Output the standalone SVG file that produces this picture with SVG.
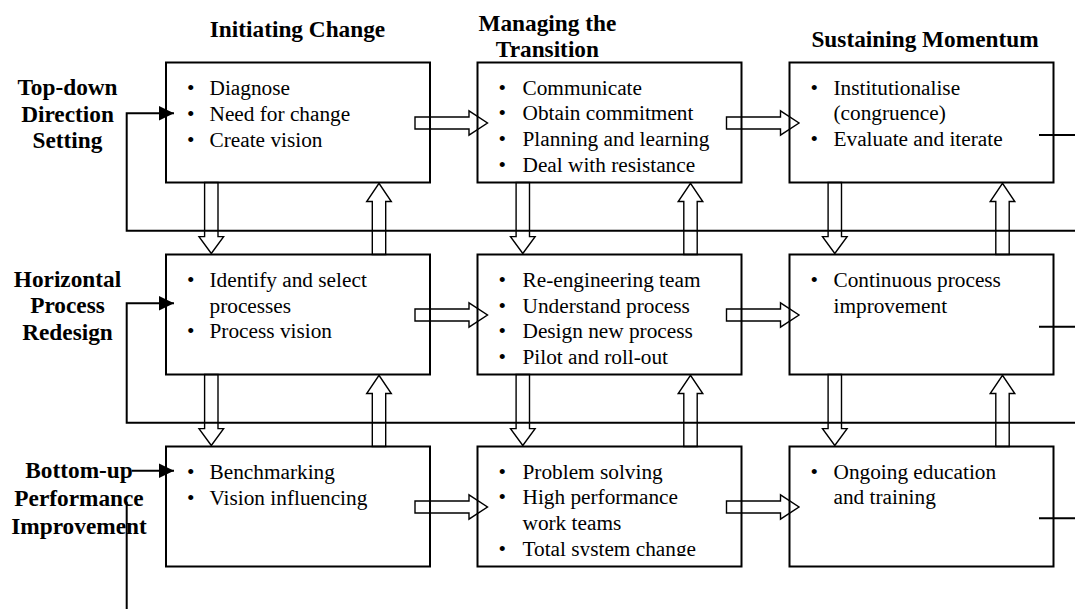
<svg xmlns="http://www.w3.org/2000/svg" width="1075" height="609" viewBox="0 0 1075 609">
<style>
.box{fill:none;stroke:#000;stroke-width:2}
.t{font-family:"Liberation Serif","Times New Roman",serif;font-size:21.3px;fill:#000}
.h{font-family:"Liberation Serif","Times New Roman",serif;font-size:23.3px;font-weight:bold;fill:#000;text-anchor:middle}
.blk{fill:none;stroke:#000;stroke-width:1.4;stroke-linejoin:miter}
.ln{fill:none;stroke:#000;stroke-width:2}
</style>
<defs>
<marker id="ah" markerUnits="userSpaceOnUse" markerWidth="16" markerHeight="16" refX="15" refY="7.3" orient="auto">
<path d="M0,0 L15,7.3 L0,14.6 z" fill="#000"/>
</marker>
<clipPath id="clipB32"><rect x="477.5" y="446.5" width="264" height="109.5"/></clipPath>
</defs>
<rect width="1075" height="609" fill="#fff"/>

<g id="headings">
<text class="h" x="297.5" y="37.3">Initiating Change</text>
<text class="h" x="547.4" y="31">Managing the</text>
<text class="h" x="547.4" y="56.7">Transition</text>
<text class="h" x="925" y="46.7">Sustaining Momentum</text>
</g>

<g id="row-labels">
<text class="h" x="67.5" y="95">Top-down</text>
<text class="h" x="67.5" y="121.7">Direction</text>
<text class="h" x="67.5" y="148.3">Setting</text>
<text class="h" x="67.5" y="286.7">Horizontal</text>
<text class="h" x="67.5" y="313.3">Process</text>
<text class="h" x="67.5" y="340">Redesign</text>
<text class="h" x="79" y="478.3">Bottom-up</text>
<text class="h" x="79" y="506.3">Performance</text>
<text class="h" x="79" y="534">Improvement</text>
</g>

<g id="box-r1c1">
<rect class="box" x="166" y="62.5" width="264" height="120"/>
<text class="t"><tspan x="187" y="95">•</tspan><tspan x="209.5">Diagnose</tspan><tspan x="187" y="120.8">•</tspan><tspan x="209.5">Need for change</tspan><tspan x="187" y="146.6">•</tspan><tspan x="209.5">Create vision</tspan></text>
</g>
<g id="box-r1c2">
<rect class="box" x="477.5" y="62.5" width="264" height="120"/>
<text class="t"><tspan x="498.5" y="94.5">•</tspan><tspan x="522.5">Communicate</tspan><tspan x="498.5" y="120.3">•</tspan><tspan x="522.5">Obtain commitment</tspan><tspan x="498.5" y="146.1">•</tspan><tspan x="522.5">Planning and learning</tspan><tspan x="498.5" y="171.9">•</tspan><tspan x="522.5">Deal with resistance</tspan></text>
</g>
<g id="box-r1c3">
<rect class="box" x="789.5" y="62.5" width="264" height="120"/>
<text class="t"><tspan x="810.5" y="94.5">•</tspan><tspan x="833.5">Institutionalise</tspan><tspan x="833.5" y="120.3">(congruence)</tspan><tspan x="810.5" y="146.1">•</tspan><tspan x="833.5">Evaluate and iterate</tspan></text>
</g>

<g id="box-r2c1">
<rect class="box" x="166" y="254.5" width="264" height="120"/>
<text class="t"><tspan x="187" y="286.7">•</tspan><tspan x="209.5">Identify and select</tspan><tspan x="209.5" y="312.5">processes</tspan><tspan x="187" y="338.3">•</tspan><tspan x="209.5">Process vision</tspan></text>
</g>
<g id="box-r2c2">
<rect class="box" x="477.5" y="254.5" width="264" height="120"/>
<text class="t"><tspan x="498.5" y="286.7">•</tspan><tspan x="522.5">Re-engineering team</tspan><tspan x="498.5" y="312.5">•</tspan><tspan x="522.5">Understand process</tspan><tspan x="498.5" y="338.3">•</tspan><tspan x="522.5">Design new process</tspan><tspan x="498.5" y="364.1">•</tspan><tspan x="522.5">Pilot and roll-out</tspan></text>
</g>
<g id="box-r2c3">
<rect class="box" x="789.5" y="254.5" width="264" height="120"/>
<text class="t"><tspan x="810.5" y="286.7">•</tspan><tspan x="833.5">Continuous process</tspan><tspan x="833.5" y="312.5">improvement</tspan></text>
</g>

<g id="box-r3c1">
<rect class="box" x="166" y="446.5" width="264" height="120"/>
<text class="t"><tspan x="187" y="478.5">•</tspan><tspan x="209.5">Benchmarking</tspan><tspan x="187" y="504.5">•</tspan><tspan x="209.5">Vision influencing</tspan></text>
</g>
<g id="box-r3c2">
<rect class="box" x="477.5" y="446.5" width="264" height="120"/>
<text class="t" clip-path="url(#clipB32)"><tspan x="498.5" y="478.5">•</tspan><tspan x="522.5">Problem solving</tspan><tspan x="498.5" y="504.3">•</tspan><tspan x="522.5">High performance</tspan><tspan x="522.5" y="530.1">work teams</tspan><tspan x="498.5" y="555.9">•</tspan><tspan x="522.5">Total system change</tspan></text>
</g>
<g id="box-r3c3">
<rect class="box" x="789.5" y="446.5" width="264" height="120"/>
<text class="t"><tspan x="810.5" y="478.5">•</tspan><tspan x="833.5">Ongoing education</tspan><tspan x="833.5" y="504.3">and training</tspan></text>
</g>

<g id="connectors">
<!-- horizontal block arrows -->
<polygon class="blk" points="415,117 469,117 469,110.8 487.5,123 469,135.2 469,129 415,129"/>
<polygon class="blk" points="726.5,117 780.5,117 780.5,110.8 799,123 780.5,135.2 780.5,129 726.5,129"/>
<polygon class="blk" points="415,309 469,309 469,302.8 487.5,315 469,327.2 469,321 415,321"/>
<polygon class="blk" points="726.5,309 780.5,309 780.5,302.8 799,315 780.5,327.2 780.5,321 726.5,321"/>
<polygon class="blk" points="415,501 469,501 469,494.8 487.5,507 469,519.2 469,513 415,513"/>
<polygon class="blk" points="726.5,501 780.5,501 780.5,494.8 799,507 780.5,519.2 780.5,513 726.5,513"/>
<!-- down block arrows rows 1-2 -->
<polygon class="blk" points="204.6,182.5 204.6,236.6 199,236.6 211.3,253.5 223.6,236.6 218,236.6 218,182.5"/>
<polygon class="blk" points="516.1,182.5 516.1,236.6 510.5,236.6 522.8,253.5 535.1,236.6 529.5,236.6 529.5,182.5"/>
<polygon class="blk" points="828.1,182.5 828.1,236.6 822.5,236.6 834.8,253.5 847.1,236.6 841.5,236.6 841.5,182.5"/>
<!-- up block arrows rows 1-2 -->
<polygon class="blk" points="372.3,254.5 372.3,201.5 366.7,201.5 379,183.3 391.3,201.5 385.7,201.5 385.7,254.5"/>
<polygon class="blk" points="683.8,254.5 683.8,201.5 678.2,201.5 690.5,183.3 702.8,201.5 697.2,201.5 697.2,254.5"/>
<polygon class="blk" points="995.8,254.5 995.8,201.5 990.2,201.5 1002.5,183.3 1014.8,201.5 1009.2,201.5 1009.2,254.5"/>
<!-- down block arrows rows 2-3 -->
<polygon class="blk" points="204.6,374.5 204.6,428.6 199,428.6 211.3,445.5 223.6,428.6 218,428.6 218,374.5"/>
<polygon class="blk" points="516.1,374.5 516.1,428.6 510.5,428.6 522.8,445.5 535.1,428.6 529.5,428.6 529.5,374.5"/>
<polygon class="blk" points="828.1,374.5 828.1,428.6 822.5,428.6 834.8,445.5 847.1,428.6 841.5,428.6 841.5,374.5"/>
<!-- up block arrows rows 2-3 -->
<polygon class="blk" points="372.3,446.5 372.3,393.5 366.7,393.5 379,375.3 391.3,393.5 385.7,393.5 385.7,446.5"/>
<polygon class="blk" points="683.8,446.5 683.8,393.5 678.2,393.5 690.5,375.3 702.8,393.5 697.2,393.5 697.2,446.5"/>
<polygon class="blk" points="995.8,446.5 995.8,393.5 990.2,393.5 1002.5,375.3 1014.8,393.5 1009.2,393.5 1009.2,446.5"/>
<!-- feedback loops -->
<path class="ln" d="M1075,230.7 H126.7 V113.3 H174" marker-end="url(#ah)"/>
<path class="ln" d="M1075,422.7 H126.7 V303.3 H174" marker-end="url(#ah)"/>
<path class="ln" d="M131.7,470.7 H174" marker-end="url(#ah)"/>
<path class="ln" d="M126.7,501.7 V609"/>
<!-- right stubs -->
<path class="ln" d="M1039,135 H1075 M1039,326.7 H1075 M1039,518.3 H1075"/>
</g>
</svg>
